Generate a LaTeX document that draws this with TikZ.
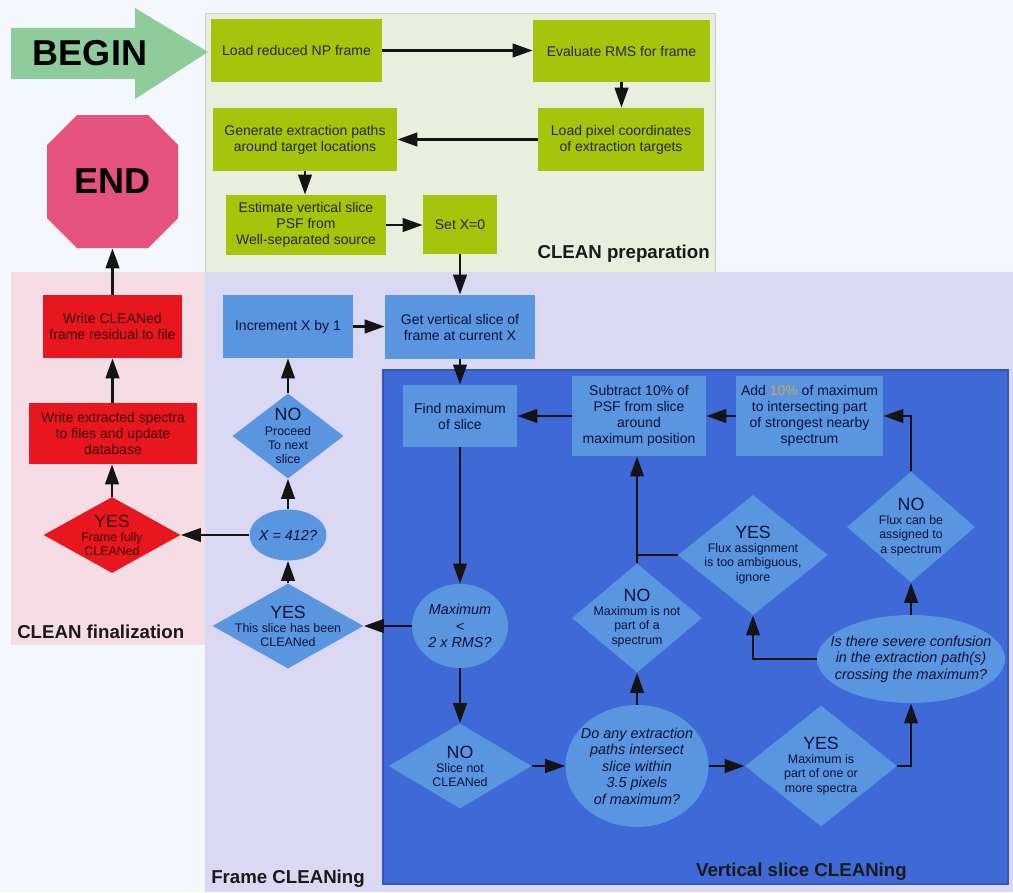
\documentclass[tikz,border=0pt]{standalone}
\usepackage{fontspec}
\setmainfont{Liberation Sans}
\usetikzlibrary{arrows.meta,shapes.geometric}

\definecolor{pagebg}{HTML}{F4F7FB}
\definecolor{prepbg}{HTML}{E8EFDF}
\definecolor{prepline}{HTML}{C9D0C3}
\definecolor{greenbox}{HTML}{A6C40C}
\definecolor{beginc}{HTML}{8FCC9C}
\definecolor{endc}{HTML}{E6527E}
\definecolor{pinkbg}{HTML}{F5DCE5}
\definecolor{redbox}{HTML}{E8161E}
\definecolor{redtext}{HTML}{3C0606}
\definecolor{lavbg}{HTML}{DBD8F4}
\definecolor{bluebox}{HTML}{5A95DF}
\definecolor{bluepanel}{HTML}{3E69D6}
\definecolor{blueline}{HTML}{3457B8}
\definecolor{bluetext}{HTML}{0D1238}
\definecolor{pctc}{HTML}{D2A452}

\newcommand\boxfont{\fontsize{10.5}{12}\selectfont}
\newcommand\qfont{\fontsize{10.8}{12.4}\selectfont\itshape}
\newcommand\ansfont{\fontsize{9.3}{10.6}\selectfont}
\newcommand\yesno{\fontsize{13.3}{14}\selectfont}
\newcommand\ttlfont{\fontsize{14}{16}\selectfont\bfseries}
\newcommand\hugefont{\fontsize{27}{30}\selectfont\bfseries}

\tikzset{
  wh/.style 2 args={minimum width=#1*0.75pt,minimum height=#2*0.75pt},
  gbox/.style={rectangle,fill=greenbox,text=black!85,font=\boxfont,align=center,inner sep=1pt},
  rbox/.style={rectangle,fill=redbox,text=redtext,font=\boxfont,align=center,inner sep=1pt},
  bbox/.style={rectangle,fill=bluebox,text=bluetext,font=\boxfont,align=center,inner sep=1pt},
  ansdia/.style={diamond,fill=#1,inner sep=0pt},
  quell/.style={ellipse,fill=bluebox,inner sep=0pt},
  anstext/.style={text=bluetext,font=\ansfont,align=center,inner sep=0pt},
  qtext/.style={text=bluetext,font=\qfont,align=center,inner sep=0pt},
  ttl/.style={font=\ttlfont,text=black!90,inner sep=0pt},
  conn/.style={line width=2.2pt,draw=black!92,-{Triangle[length=15pt,width=10pt]}},
  link/.style={line width=2.2pt,draw=black!92}
}

\begin{document}
\begin{tikzpicture}[x=0.75pt,y=-0.75pt]

% page and panels
\useasboundingbox (0,0) rectangle (1013,892);
\fill[pagebg] (0,0) rectangle (1013,892);
\fill[prepbg,draw=prepline,line width=0.6pt] (205,13) rectangle (715,272);
\fill[pinkbg] (11,272) rectangle (205,645);
\fill[lavbg] (205,272) rectangle (1013,892);
\fill[bluepanel,draw=blueline,line width=0.8pt] (383,370) rectangle (1008,884);

% panel titles
\node[ttl,anchor=east] (tprep) at (710,254) {CLEAN preparation};
\node[ttl,anchor=west] (tfin) at (17,632) {CLEAN finalization};
\node[ttl,anchor=west] (tframe) at (211,879) {Frame CLEANing};
\node[ttl,anchor=east] (tslice) at (907,872) {Vertical slice CLEANing};

% start and stop
\fill[beginc] (11,28) -- (135,28) -- (135,8) -- (208,52) -- (135,99) -- (135,79) -- (11,79) -- cycle;
\node[font=\hugefont,text=black,inner sep=0pt] (begin) at (90,53) {BEGIN};
\fill[endc] (77,115) -- (148,115) -- (178,145) -- (178,218) -- (148,248) -- (77,248) -- (47,218) -- (47,145) -- cycle;
\node[rectangle,wh={131}{133},font=\hugefont,text=black,inner sep=0pt] (endoct) at (112.5,181.5) {END};

% CLEAN preparation
\node[gbox,wh={171}{63}] (load) at (296.5,50.5) {Load reduced NP frame};
\node[gbox,wh={177}{62}] (eval) at (621.5,51) {Evaluate RMS for frame};
\node[gbox,wh={166}{63}] (pix) at (621,139.5) {Load pixel coordinates\\of extraction targets};
\node[gbox,wh={184}{63}] (gen) at (305,139.5) {Generate extraction paths\\around target locations};
\node[gbox,wh={160}{60}] (est) at (306,225) {Estimate vertical slice\\PSF from\\Well-separated source};
\node[gbox,wh={74}{59}] (setx) at (460,224.5) {Set X=0};

% CLEAN finalization
\node[rbox,wh={139}{63}] (wclean) at (112.5,326.5) {Write CLEANed\\frame residual to file};
\node[rbox,wh={168}{61}] (wspec) at (113,433.5) {Write extracted spectra\\to files and update\\database};
\node[ansdia=redbox,wh={137}{76},label={[anstext,text=redtext]center:{{\yesno YES}\\Frame fully\\CLEANed}}] (yesfr) at (112,535) {};

% Frame CLEANing
\node[bbox,wh={130}{63}] (incr) at (288,326.5) {Increment X by 1};
\node[bbox,wh={150}{64}] (getv) at (460,327) {Get vertical slice of\\frame at current X};
\node[ansdia=bluebox,wh={111}{85},label={[anstext]center:{{\yesno NO}\\Proceed\\To next\\slice}}] (noproc) at (288,436) {};
\node[quell,wh={77}{51},label={[qtext]center:{X = 412?}}] (x412) at (288,535) {};
\node[ansdia=bluebox,wh={151}{85},label={[anstext]center:{{\yesno YES}\\This slice has been\\CLEANed}}] (yesslice) at (288,626) {};

% Vertical slice CLEANing
\node[bbox,wh={114}{62}] (findmax) at (460,416) {Find maximum\\of slice};
\node[bbox,wh={134}{80}] (subtr) at (639,416) {Subtract 10\% of\\PSF from slice\\around\\maximum position};
\node[bbox,wh={147}{80}] (addb) at (809.5,416) {Add \textcolor{pctc}{10\%} of maximum\\to intersecting part\\of strongest nearby\\spectrum};
\node[quell,wh={96}{84},label={[qtext]center:{Maximum\\<\\2 x RMS?}}] (maxrms) at (460,626) {};
\node[ansdia=bluebox,wh={143}{85},label={[anstext]center:{{\yesno NO}\\Slice not\\CLEANed}}] (noslice) at (460,766) {};
\node[quell,wh={143}{122},label={[qtext]center:{Do any extraction\\paths intersect\\slice within\\3.5 pixels\\of maximum?}}] (doany) at (637,766) {};
\node[ansdia=bluebox,wh={152}{121},label={[anstext]center:{{\yesno YES}\\Maximum is\\part of one or\\more spectra}}] (yesmax) at (821,766) {};
\node[quell,wh={188}{88},label={[qtext]center:{Is there severe confusion\\in the extraction path(s)\\crossing the maximum?}}] (confuse) at (911,659) {};
\node[ansdia=bluebox,wh={128}{111},label={[anstext]center:{{\yesno NO}\\Flux can be\\assigned to\\a spectrum}}] (noflux) at (911,527) {};
\node[ansdia=bluebox,wh={150}{120},label={[anstext]center:{{\yesno YES}\\Flux assignment\\is too ambiguous,\\ignore}}] (yesflux) at (753,555) {};
\node[ansdia=bluebox,wh={130}{109},label={[anstext]center:{{\yesno NO}\\Maximum is not\\part of a\\spectrum}}] (nomax) at (637,618) {};

% connectors: preparation
\draw[conn] (load.east) -- (eval.west |- load.east);
\draw[conn] (eval.south) -- (eval.south |- pix.north);
\draw[conn] (pix.west) -- (gen.east |- pix.west);
\draw[conn] (gen.south) -- (gen.south |- est.north);
\draw[conn] (est.east) -- (setx.west |- est.east);
\draw[conn] (setx.south) -- (setx.south |- getv.north);

% connectors: frame loop
\draw[conn] (incr.east) -- (getv.west |- incr.east);
\draw[conn] (getv.south) -- (getv.south |- findmax.north);
\draw[conn] (yesslice.north) -- (x412.south);
\draw[conn] (x412.north) -- (noproc.south);
\draw[conn] (noproc.north) -- (incr.south);
\draw[conn] (x412.west) -- (yesfr.east);

% connectors: finalization
\draw[conn] (yesfr.north) -- (wspec.south -| yesfr.north);
\draw[conn] (wspec.north -| wclean.south) -- (wclean.south);
\draw[conn] (wclean.north) -- (endoct.south);

% connectors: slice loop
\draw[conn] (findmax.south) -- (maxrms.north);
\draw[conn] (maxrms.west) -- (yesslice.east);
\draw[conn] (maxrms.south) -- (noslice.north);
\draw[conn] (noslice.east) -- (doany.west);
\draw[conn] (doany.east) -- (yesmax.west);
\draw[conn] (doany.north) -- (nomax.south);
\draw[conn] (yesmax.east) -| (confuse.south);
\draw[conn] (confuse.north) -- (noflux.south);
\draw[conn] (noflux.north) |- (addb.east);
\draw[conn] (confuse.west) -| (yesflux.south);
\draw[link] (yesflux.west) -- (nomax.north |- yesflux.west);
\draw[conn] (nomax.north) -- (nomax.north |- subtr.south);
\draw[conn] (addb.west) -- (subtr.east);
\draw[conn] (subtr.west) -- (findmax.east);
\end{tikzpicture}
\end{document}
